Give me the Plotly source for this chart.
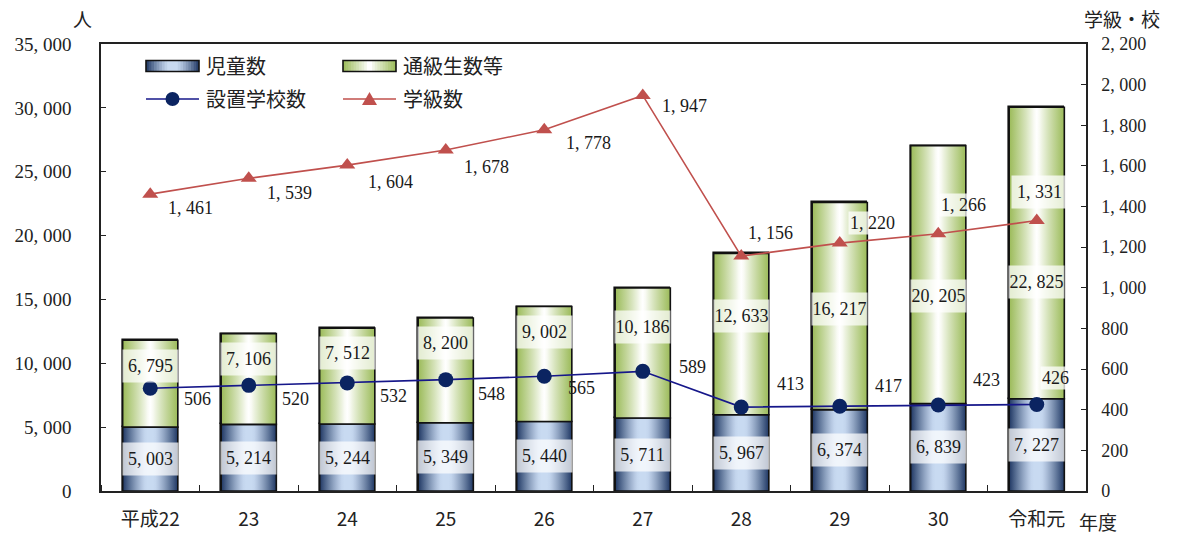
import plotly.graph_objects as go

# ---- data -------------------------------------------------------------
categories = ["平成22", "23", "24", "25", "26", "27", "28", "29", "30", "令和元"]
children = [5003, 5214, 5244, 5349, 5440, 5711, 5967, 6374, 6839, 7227]          # 児童数
tsukyu = [6795, 7106, 7512, 8200, 9002, 10186, 12633, 16217, 20205, 22825]       # 通級生数等
schools = [506, 520, 532, 548, 565, 589, 413, 417, 423, 426]                     # 設置学校数
classes = [1461, 1539, 1604, 1678, 1778, 1947, 1156, 1220, 1266, 1331]           # 学級数

left_ticks = list(range(0, 35001, 5000))
right_ticks = list(range(0, 2201, 200))

# ---- label placement tweaks (pixels) ---------------------------------
tsukyu_label_shift = [18, 20, 23, 27, 32, 26, 18, -3, -21, -29]
class_label_dx = [40, 41, 43, 41, 44, 42, 29, 33, 25, 3]
class_label_dy = [-14, -15, -17, -17, -13, -11, 23, 20, 29, 29]
school_label_dx = [47, 47, 46, 46, 37, 50, 49, 49, 48, 19]
school_label_dy = [-11, -14, -13, -14, -12, 4, 23, 20, 25, 26]

# ---- geometry / style --------------------------------------------------
W, H = 1178, 534
ML, MR, MT, MB = 101, 92, 44, 43
PW, PH = W - ML - MR, H - MT - MB
BAR_W = 0.56

NUM_FONT = "Liberation Serif, DejaVu Serif, serif"
JP_FONT = "Noto Sans CJK JP, sans-serif"
BLUE_DARK, BLUE_LIGHT = (30, 54, 98), (200, 218, 241)
GREEN_DARK, GREEN_LIGHT = (155, 187, 89), (255, 255, 255)
NAVY_LINE, NAVY_MARK = "#16178a", "#0b2461"
RED = "#c0504d"
OUTLINE = "#111"
LABEL_BG = "rgba(255,255,255,0.75)"


def fmt(v):
    return f"{v:,}".replace(",", ", ")


def blend(dark, light, f):
    return "rgb({},{},{})".format(*[round(l + (d - l) * f) for d, l in zip(dark, light)])


def blue_at(u):
    d = abs(2 * u - 1)
    f = max(0.0, (d - 0.15) / 0.85) ** 1.25
    return blend(BLUE_DARK, BLUE_LIGHT, f)


def green_at(u):
    d = abs(2 * u - 1)
    f = max(0.0, (d - 0.05) / 0.95) ** 0.9
    return blend(GREEN_DARK, GREEN_LIGHT, f)


def colorscale(color_at, n=21):
    return [[k / (n - 1), color_at(k / (n - 1))] for k in range(n)]


def px_x(px):
    return (px - ML) / PW


def px_y(py):
    return (H - MB - py) / PH


x_pos = list(range(len(categories)))
fig = go.Figure()

# ---- stacked bars ---------------------------------------------------------
for values, base, color_at in ((children, None, blue_at), (tsukyu, children, green_at)):
    fig.add_trace(go.Bar(
        x=x_pos, y=values, base=base, width=BAR_W,
        marker=dict(color=color_at(0.2), line=dict(color=OUTLINE, width=1.6)),
        showlegend=False, hoverinfo="skip",
    ))

# horizontal gradient fill laid over each bar segment
for values, bases, color_at in ((children, [0] * len(children), blue_at),
                                (tsukyu, children, green_at)):
    scale = colorscale(color_at)
    for xi, v, b in zip(x_pos, values, bases):
        x0, x1 = xi - BAR_W / 2, xi + BAR_W / 2
        fig.add_trace(go.Scatter(
            x=[x0, x1, x1, x0, x0], y=[b, b, b + v, b + v, b],
            mode="lines", fill="toself",
            fillgradient=dict(type="horizontal", colorscale=scale),
            line=dict(color=OUTLINE, width=1.6),
            showlegend=False, hoverinfo="skip",
        ))

# ---- lines on the secondary axis --------------------------------------
fig.add_trace(go.Scatter(
    x=x_pos, y=classes, yaxis="y2", mode="lines+markers",
    line=dict(color=RED, width=1.6),
    marker=dict(symbol="triangle-up", size=14, color=RED),
    showlegend=False, hoverinfo="skip",
))
fig.add_trace(go.Scatter(
    x=x_pos, y=schools, yaxis="y2", mode="lines+markers",
    line=dict(color=NAVY_LINE, width=1.6),
    marker=dict(symbol="circle", size=15, color=NAVY_MARK),
    showlegend=False, hoverinfo="skip",
))

annotations = []
num_font = dict(family=NUM_FONT, size=18, color="#1a1a1a")

# value labels inside the bars
for xi, cv, tv, sh in zip(x_pos, children, tsukyu, tsukyu_label_shift):
    annotations.append(dict(
        x=xi, y=cv / 2, xref="x", yref="y", text=fmt(cv), showarrow=False,
        width=55, height=32, borderpad=0, bgcolor="rgba(255,255,255,0.72)",
        font=num_font,
    ))
    annotations.append(dict(
        x=xi, y=cv + tv / 2, xref="x", yref="y", yshift=sh, text=fmt(tv),
        showarrow=False, width=55, height=32, borderpad=0,
        bgcolor="rgba(255,255,255,0.72)", font=num_font,
    ))

# line value labels
last = x_pos[-1]
for xi, v, dx, dy in zip(x_pos, classes, class_label_dx, class_label_dy):
    box = dict(width=55, height=32, borderpad=0) if xi == last else dict(borderpad=1)
    annotations.append(dict(
        x=xi, y=v, xref="x", yref="y2", xshift=dx, yshift=dy, text=fmt(v),
        showarrow=False, bgcolor=LABEL_BG, font=num_font, **box,
    ))
for xi, v, dx, dy in zip(x_pos, schools, school_label_dx, school_label_dy):
    annotations.append(dict(
        x=xi, y=v, xref="x", yref="y2", xshift=dx, yshift=dy, text=fmt(v),
        showarrow=False, bgcolor=LABEL_BG if xi == last else None,
        borderpad=1, font=num_font,
    ))

# axis unit captions
jp_font = dict(family=JP_FONT, size=19, color="#222")
for px, py, label in ((82, 18, "人"), (1122, 18, "学級・校"), (1098, 521, "年度")):
    annotations.append(dict(x=px_x(px), y=px_y(py), xref="paper", yref="paper",
                            xanchor="center", yanchor="middle", text=label,
                            showarrow=False, font=jp_font))

# ---- legend ---------------------------------------------------------------
shapes = []
legend_font = dict(family=JP_FONT, size=20, color="#222")
sw_w, sw_h = 53, 11


def legend_text(x0, yc, label):
    annotations.append(dict(x=px_x(x0 + sw_w + 5), y=px_y(yc), xref="paper", yref="paper",
                            xanchor="left", yanchor="middle", text=label,
                            showarrow=False, font=legend_font))


def bar_swatch(x0, yc, color_at, label):
    n = 20
    for i in range(n):
        a = x0 + sw_w * i / n
        b = x0 + sw_w * min(i + 1.6, n) / n
        shapes.append(dict(type="rect", xref="paper", yref="paper",
                           x0=px_x(a), x1=px_x(b), y0=px_y(yc + sw_h / 2), y1=px_y(yc - sw_h / 2),
                           fillcolor=color_at((i + 0.5) / n), line=dict(width=0)))
    shapes.append(dict(type="rect", xref="paper", yref="paper",
                       x0=px_x(x0), x1=px_x(x0 + sw_w), y0=px_y(yc + sw_h / 2), y1=px_y(yc - sw_h / 2),
                       line=dict(color=OUTLINE, width=1.6)))
    legend_text(x0, yc, label)


def line_swatch(x0, yc, color, marker, mcolor, label):
    shapes.append(dict(type="line", xref="paper", yref="paper",
                       x0=px_x(x0), x1=px_x(x0 + sw_w), y0=px_y(yc), y1=px_y(yc),
                       line=dict(color=color, width=1.6)))
    xc = x0 + sw_w / 2
    if marker == "circle":
        r = 7
        shapes.append(dict(type="circle", xref="paper", yref="paper",
                           x0=px_x(xc - r), x1=px_x(xc + r), y0=px_y(yc + r), y1=px_y(yc - r),
                           fillcolor=mcolor, line=dict(width=0)))
    else:
        path = "M{},{} L{},{} L{},{} Z".format(
            px_x(xc - 7.5), px_y(yc + 6), px_x(xc + 7.5), px_y(yc + 6), px_x(xc), px_y(yc - 7))
        shapes.append(dict(type="path", xref="paper", yref="paper", path=path,
                           fillcolor=mcolor, line=dict(width=0)))
    legend_text(x0, yc, label)


bar_swatch(146, 66, blue_at, "児童数")
bar_swatch(343, 66, green_at, "通級生数等")
line_swatch(146, 99, NAVY_LINE, "circle", NAVY_MARK, "設置学校数")
line_swatch(343, 99, RED, "triangle", RED, "学級数")

axis_line = dict(showline=True, linecolor="#222", linewidth=1.5, automargin=False)

fig.update_layout(
    width=W, height=H,
    margin=dict(l=ML, r=MR, t=MT, b=MB, pad=0, autoexpand=False),
    paper_bgcolor="white", plot_bgcolor="white",
    barmode="overlay", bargap=0,
    showlegend=False,
    xaxis=dict(
        range=[-0.5, len(categories) - 0.5], tickvals=x_pos, ticktext=categories,
        ticks="", showgrid=False, zeroline=False, mirror=True, **axis_line,
        minor=dict(tickvals=[p - 0.5 for p in x_pos] + [x_pos[-1] + 0.5],
                   ticks="inside", ticklen=6, tickcolor="#222", showgrid=False),
        tickfont=dict(family=JP_FONT, size=19, color="#222"),
        ticklabelstandoff=10,
    ),
    yaxis=dict(
        range=[0, 35000], tickvals=left_ticks, ticktext=[fmt(v) for v in left_ticks],
        ticks="inside", ticklen=5, tickcolor="#222", showgrid=False, zeroline=False,
        tickfont=dict(family=NUM_FONT, size=19, color="#222"),
        ticklabelstandoff=24, **axis_line,
    ),
    yaxis2=dict(
        range=[0, 2200], tickvals=right_ticks, ticktext=[fmt(v) for v in right_ticks],
        overlaying="y", side="right", ticks="inside", ticklen=5, tickcolor="#222",
        showgrid=False, zeroline=False,
        tickfont=dict(family=NUM_FONT, size=18, color="#222"),
        ticklabelstandoff=10, **axis_line,
    ),
    annotations=annotations,
    shapes=shapes,
)

fig.write_html("out.html")
